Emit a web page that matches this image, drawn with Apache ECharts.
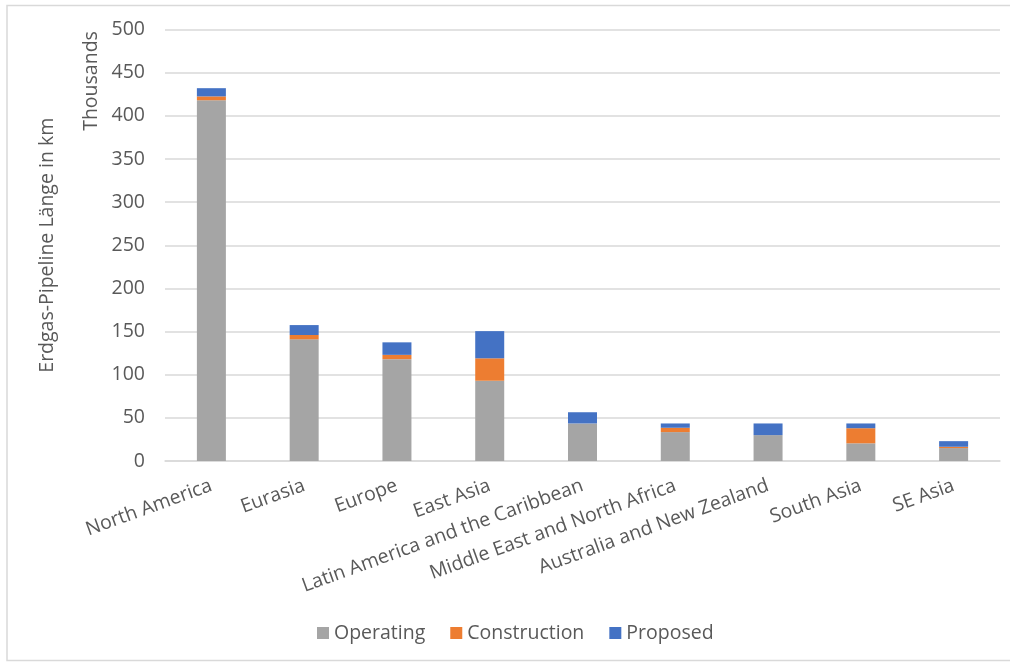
<!DOCTYPE html>
<html>
<head>
<meta charset="utf-8">
<title>Erdgas-Pipelines nach Region</title>
<script src="https://cdn.jsdelivr.net/npm/echarts@6/dist/echarts.min.js"></script>
<style>
  html, body { margin: 0; padding: 0; background: #ffffff; }
  #chart { width: 1010px; height: 662px; }
</style>
</head>
<body>
<div id="chart"></div>
<script>
// Regions on the category axis
const regions = [
  'North America', 'Eurasia', 'Europe', 'East Asia',
  'Latin America and the Caribbean', 'Middle East and North Africa',
  'Australia and New Zealand', 'South Asia', 'SE Asia'
];

// Pipeline length per status, in thousands of km
const operating    = [418, 141, 118, 93, 43.5, 33.5, 30, 20.5, 15];
const construction = [4.5, 5, 5, 26, 0, 5, 0, 17.5, 1.5];
const proposed     = [9.5, 11.5, 14.5, 31.5, 13, 5, 13.5, 5.5, 6.5];

const seriesNames = ['Operating', 'Construction', 'Proposed'];
const seriesColors = ['#A5A5A5', '#ED7D31', '#4472C4'];
const seriesData = [operating, construction, proposed];

const FONT = '"Open Sans", "Noto Sans", sans-serif';
const FS = 19.5;
const TEXT = '#595959';

const chart = echarts.init(document.getElementById('chart'), null, { renderer: 'canvas' });

chart.setOption({
  animation: false,
  backgroundColor: '#ffffff',
  textStyle: { fontFamily: FONT },
  grid: { left: 165, right: 10, top: 29.5, bottom: 201, containLabel: false },
  legend: {
    top: 623,
    left: 317,
    padding: 0,
    icon: 'rect',
    itemWidth: 12,
    itemHeight: 12,
    itemGap: 25,
    textStyle: { fontFamily: FONT, fontSize: FS, color: TEXT },
    data: seriesNames
  },
  xAxis: {
    type: 'category',
    data: regions,
    axisLine: { lineStyle: { color: '#D9D9D9', width: 1.5 } },
    axisTick: { show: false },
    axisLabel: {
      interval: 0,
      rotate: 20,
      margin: 24,
      fontFamily: FONT,
      fontSize: FS,
      color: TEXT
    }
  },
  yAxis: {
    type: 'value',
    min: 0,
    max: 500,
    interval: 50,
    name: 'Erdgas-Pipeline Länge in km',
    nameLocation: 'middle',
    nameGap: 108,
    nameTextStyle: { fontFamily: FONT, fontSize: FS, color: TEXT },
    axisLine: { show: false },
    axisTick: { show: false },
    axisLabel: { margin: 20, fontFamily: FONT, fontSize: FS, color: TEXT },
    splitLine: { lineStyle: { color: '#D9D9D9', width: 1.5 } }
  },
  graphic: [
    {
      type: 'rect',
      silent: true,
      shape: { x: 7, y: 5.5, width: 1010, height: 655 },
      style: { fill: 'none', stroke: '#D9D9D9', lineWidth: 1.5 }
    },
    {
      type: 'text',
      silent: true,
      x: 91,
      y: 81,
      rotation: Math.PI / 2,
      style: {
        text: 'Thousands',
        fontFamily: FONT,
        fontSize: FS,
        fill: TEXT,
        align: 'center',
        verticalAlign: 'middle'
      }
    }
  ],
  series: seriesNames.map((name, i) => ({
    name: name,
    type: 'bar',
    stack: 'total',
    barWidth: 29,
    itemStyle: { color: seriesColors[i] },
    data: seriesData[i]
  }))
});
</script>
</body>
</html>
